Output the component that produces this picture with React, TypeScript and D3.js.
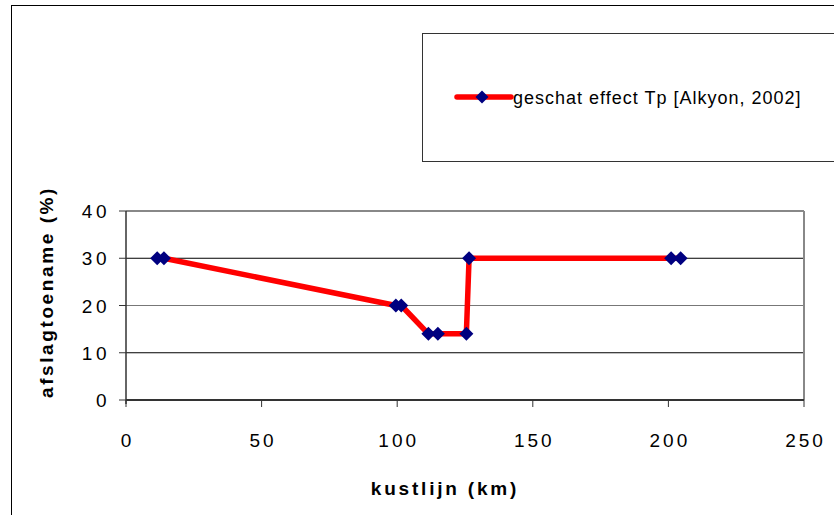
import React from "react";
import * as d3 from "d3";

const kmValues = [11.5, 14, 99.5, 101.5, 111.5, 115, 125.5, 126.5, 201, 204.5];
const pctValues = [30, 30, 20, 20, 14, 14, 14, 30, 30, 30];
const xTicks = [0, 50, 100, 150, 200, 250];
const yTicks = [0, 10, 20, 30, 40];
const seriesName = "geschat effect Tp [Alkyon, 2002]";
const xTitle = "kustlijn (km)";
const yTitle = "afslagtoename (%)";

const W = 834;
const H = 515;
const left = 126;
const right = 804;
const top = 211;
const bottom = 400;

export default function App() {
  const x = d3.scaleLinear().domain([0, 250]).range([left, right]);
  const y = d3.scaleLinear().domain([0, 40]).range([bottom, top]);
  const pts: [number, number][] = kmValues.map((k, i) => [k, pctValues[i]]);
  const line = d3
    .line<[number, number]>()
    .x((d) => x(d[0]))
    .y((d) => y(d[1]));
  const diamond = (cx: number, cy: number, r: number) =>
    `M${cx},${cy - r}L${cx + r},${cy}L${cx},${cy + r}L${cx - r},${cy}Z`;
  const font = "'Liberation Sans', Arial, sans-serif";
  return (
    <svg
      width={W}
      height={H}
      style={{ position: "absolute", left: 0, top: 0, background: "#fff" }}
      fontFamily={font}
    >
      <rect x={0} y={0} width={W} height={H} fill="#fff" />
      {/* outer frame */}
      <rect x={11.5} y={5.5} width={W + 20} height={H + 20} fill="none" stroke="#000" strokeWidth={1} />
      {/* legend */}
      <rect x={422.5} y={33.5} width={W} height={128} fill="#fff" stroke="#333" strokeWidth={1} />
      <line x1={457} x2={511} y1={97} y2={97} stroke="#ff0000" strokeWidth={5.5} strokeLinecap="round" />
      <path d={diamond(482, 97, 6.5)} fill="#000080" />
      <text x={513} y={104} fontSize={18} letterSpacing={1} fill="#000">
        {seriesName}
      </text>
      {/* gridlines */}
      {yTicks.slice(1).map((t) => (
        <line
          key={t}
          x1={left}
          x2={right}
          y1={y(t)}
          y2={y(t)}
          stroke={t === 20 || t === 40 ? "#777" : "#000"}
          strokeWidth={1}
        />
      ))}
      {/* plot border */}
      <line x1={right} x2={right} y1={top} y2={bottom} stroke="#888" strokeWidth={2} />
      <line x1={left} x2={right} y1={top} y2={top} stroke="#888" strokeWidth={2} />
      {/* y axis */}
      <line x1={left} x2={left} y1={top} y2={bottom + 4} stroke="#333" strokeWidth={1.5} />
      {yTicks.map((t) => (
        <g key={t}>
          <line x1={left - 7} x2={left} y1={y(t)} y2={y(t)} stroke="#333" strokeWidth={1} />
          <text x={110} y={y(t) + 7} fontSize={19} letterSpacing={3.5} textAnchor="end" fill="#000">
            {t}
          </text>
        </g>
      ))}
      {/* x axis */}
      <line x1={left} x2={right} y1={bottom} y2={bottom} stroke="#333" strokeWidth={2} />
      {xTicks.map((t) => (
        <g key={t}>
          <line x1={x(t)} x2={x(t)} y1={bottom} y2={bottom + 7} stroke="#333" strokeWidth={1} />
          <text x={x(t) + 1.5} y={447} fontSize={19} letterSpacing={3} textAnchor="middle" fill="#000">
            {t}
          </text>
        </g>
      ))}
      {/* series */}
      <path d={line(pts) || ""} fill="none" stroke="#ff0000" strokeWidth={5.5} strokeLinejoin="round" />
      {pts.map((p, i) => (
        <path key={i} d={diamond(x(p[0]), y(p[1]), 7)} fill="#000080" />
      ))}
      {/* titles */}
      <text x={445} y={495} fontSize={19} fontWeight="bold" letterSpacing={2.8} textAnchor="middle" fill="#000">
        {xTitle}
      </text>
      <text
        transform={`translate(53, 292) rotate(-90)`}
        fontSize={19}
        fontWeight="bold"
        letterSpacing={2.6}
        textAnchor="middle"
        fill="#000"
      >
        {yTitle}
      </text>
    </svg>
  );
}
